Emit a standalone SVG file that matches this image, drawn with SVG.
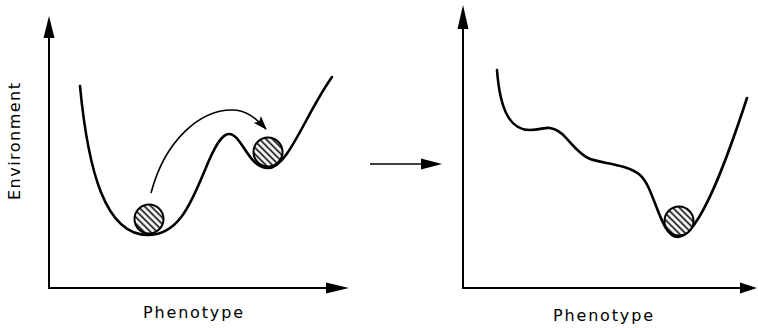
<svg xmlns="http://www.w3.org/2000/svg" width="758" height="328" viewBox="0 0 758 328">
<style>
.axis{stroke:#000;stroke-width:2;fill:none}
.head{fill:#000;stroke:none}
.curve{stroke:#000;stroke-width:2.6;fill:none;stroke-linecap:round;stroke-linejoin:round}
.ball{fill:url(#hatch);stroke:#000;stroke-width:2}
.lbl{font-family:"DejaVu Sans","Liberation Sans",sans-serif;font-size:16px;fill:#000}
.conn{stroke:#000;stroke-width:1.6;fill:none}
</style>
<defs>
<pattern id="hatch" width="4.6" height="4.6" patternUnits="userSpaceOnUse" patternTransform="rotate(45)">
<rect width="4.6" height="4.6" fill="#fff"/>
<line x1="0" y1="2.3" x2="4.6" y2="2.3" stroke="#000" stroke-width="1.6"/>
</pattern>
<marker id="ah" markerWidth="14" markerHeight="10" refX="13" refY="5" orient="auto" markerUnits="userSpaceOnUse">
<path d="M0,0 L14,5 L0,10 L3,5 Z" fill="#000"/>
</marker>
</defs>

<g id="left-panel">
<g id="left-axes">
<line class="axis" x1="49" y1="34" x2="49" y2="288"/>
<polygon class="head" points="49,16 43.5,38 54.5,38"/>
<line class="axis" x1="48" y1="288" x2="330" y2="288"/>
<polygon class="head" points="349,288 326,282.5 326,293.5"/>
</g>
<text class="lbl" transform="translate(20,200) rotate(-90)" x="0" y="0" textLength="117" lengthAdjust="spacing">Environment</text>
<text class="lbl" x="143" y="318" textLength="100" lengthAdjust="spacing">Phenotype</text>
<g id="left-landscape">
<path class="curve" d="M80,86 C88,170 105,235 148,235 C180,235 192,200 205,170 C215,145 222,134 229,134 C242,134 248,168 268,168 C288,168 305,115 332,77"/>
</g>
<g id="ball-left-1"><circle class="ball" cx="149" cy="219" r="14.5"/></g>
<g id="ball-left-2"><circle class="ball" cx="268" cy="152" r="14.5"/></g>
</g>

<g id="right-panel">
<g id="right-axes">
<line class="axis" x1="463" y1="24" x2="463" y2="288"/>
<polygon class="head" points="463,5 457.5,29 468.5,29"/>
<line class="axis" x1="462" y1="288" x2="744" y2="288"/>
<polygon class="head" points="757,288 740,282.5 740,293.5"/>
</g>
<text class="lbl" x="553" y="321" textLength="100" lengthAdjust="spacing">Phenotype</text>
<g id="right-landscape">
<path class="curve" d="M497,70 C500,110 510,130 530,130 C540,130 545,127 550,128 C565,130 572,150 588,158 C600,164 625,163 640,175 C655,188 660,237 678,237 C700,237 730,150 747,98"/>
</g>
<g id="ball-right"><circle class="ball" cx="679" cy="221" r="14.5"/></g>
</g>

<g id="connectors">
<path class="conn" d="M151,193 C165,140 200,110 232,110 C246,110 256,118 266,129" marker-end="url(#ah)"/>
<line class="conn" x1="370" y1="164" x2="425" y2="164"/>
<polygon class="head" points="442,164 421,158.5 421,169.5"/>
</g>
</svg>
